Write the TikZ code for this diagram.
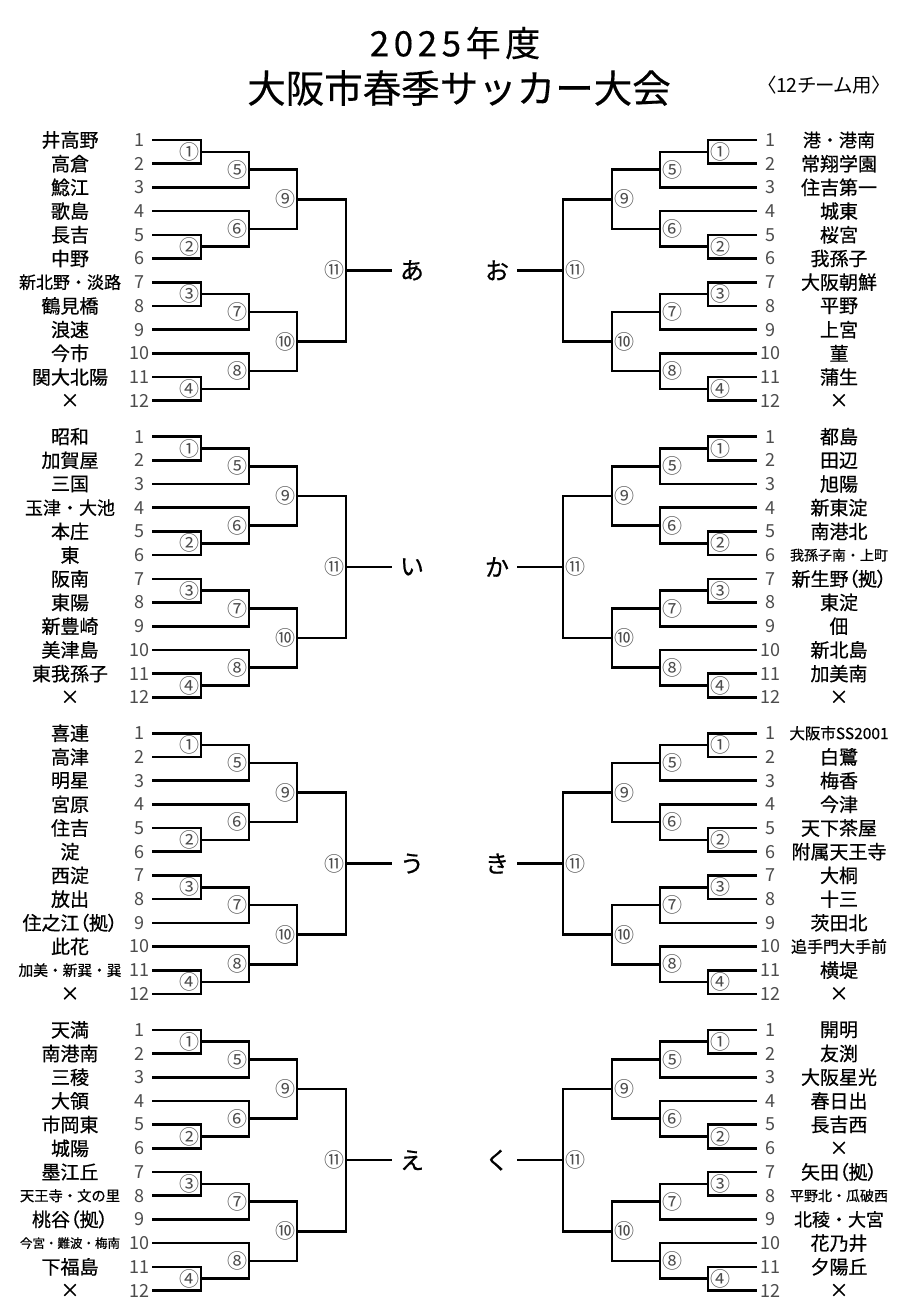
\documentclass[tikz,border=0pt]{standalone}
\usepackage{fontspec}
\setmainfont{Noto Sans CJK JP}
\newcommand\pl{\addfontfeature{RawFeature=+palt}}
\newcommand\fs[1]{\fontsize{#1}{#1}\selectfont}
\tikzset{
  br/.style={line width=2.6pt, line join=miter, draw=black},
  num/.style={inner sep=0pt, text=black!70, font={\fs{18}}},
  team/.style={inner sep=0pt, text=black},
  circ/.style={inner sep=0pt, text=black!70, font={\fs{20}}},
  fin/.style={inner sep=0pt, outer sep=0pt, font={\fs{24}}},
}
% #1 index, #2 tag, #3 sign, #4 final letter, #5 anchor, #6 list
\newcommand\drawblock[6]{%
  \pgfmathsetmacro\yb{140+296.6*#1}
  \foreach \nm/\sz [count=\r] in {#6}{
    \pgfmathsetmacro\yy{\yb+(\r-1)*23.7}
    \coordinate (#2#1t\r) at ({454.5+#3*(152-454.5)},\yy);
    \node[num] (#2#1n\r) at ({454.5+#3*(139-454.5)},\yy) {\r};
    \node[team] (#2#1k\r) at ({454.5+#3*(70-454.5)},\yy) {\fs{\sz}\addfontfeature{FakeBold=0.6}\nm};
  }
  \foreach \id/\x/\rr/\lx/\g in {1/201/1.5/189/①,2/201/5.5/189/②,3/201/7.5/189/③,4/201/11.5/189/④,
      5/249/2.25/237/⑤,6/249/4.75/237/⑥,7/249/8.25/237/⑦,8/249/10.75/237/⑧,
      9/297/3.5/285/⑨,10/297/9.5/285/⑩,11/346/6.5/334/⑪}{
    \coordinate (#2#1m\id) at ({454.5+#3*(\x-454.5)},{\yb+(\rr-1)*23.7});
    \node[circ] (#2#1c\id) at ({454.5+#3*(\lx-454.5)},{\yb+(\rr-1)*23.7}) {\g};
  }
  \node[fin] (#2#1f) at ({454.5+#3*(412-454.5)},{\yb+5.5*23.7}) {\addfontfeature{FakeBold=0.6}#4};
  \draw[br] (#2#1t1) -| (#2#1m1) |- (#2#1t2);
  \draw[br] (#2#1t5) -| (#2#1m2) |- (#2#1t6);
  \draw[br] (#2#1t7) -| (#2#1m3) |- (#2#1t8);
  \draw[br] (#2#1t11) -| (#2#1m4) |- (#2#1t12);
  \draw[br] (#2#1m1) -| (#2#1m5) |- (#2#1t3);
  \draw[br] (#2#1t4) -| (#2#1m6) |- (#2#1m2);
  \draw[br] (#2#1m3) -| (#2#1m7) |- (#2#1t9);
  \draw[br] (#2#1t10) -| (#2#1m8) |- (#2#1m4);
  \draw[br] (#2#1m5) -| (#2#1m9) |- (#2#1m6);
  \draw[br] (#2#1m7) -| (#2#1m10) |- (#2#1m8);
  \draw[br] (#2#1m9) -| (#2#1m11) |- (#2#1m10);
  \draw[br, shorten >=8pt] (#2#1m11) -- (#2#1f.#5);
}
\begin{document}
\begin{tikzpicture}[x=1pt,y=-1pt]
\fill[white] (0,0) rectangle (900,1306);
\useasboundingbox (0,0) rectangle (900,1306);
\node[inner sep=0pt] (title1) at (455,43) {\fs{35}\addfontfeature{LetterSpace=13,FakeBold=0.4}2025年度};
\node[inner sep=0pt] (title2) at (459,88) {\fs{38.5}\addfontfeature{FakeBold=0.4}大阪市春季サッカー大会};
\node[inner sep=0pt] (sub) at (824,85) {\fs{19.5}\pl〈12チーム用〉};

\drawblock{0}{L}{1}{あ}{west}{井高野/19,高倉/19,鯰江/19,歌島/19,長吉/19,中野/19,新北野・淡路/17,鶴見橋/19,浪速/19,今市/19,関大北陽/19,×/19}
\drawblock{1}{L}{1}{い}{west}{昭和/19,加賀屋/19,三国/19,玉津・大池/18,本庄/19,東/19,阪南/19,東陽/19,新豊崎/19,美津島/19,東我孫子/19,×/19}
\drawblock{2}{L}{1}{う}{west}{喜連/19,高津/19,明星/19,宮原/19,住吉/19,淀/19,西淀/19,放出/19,\pl 住之江（拠）/19,此花/19,加美・新巽・巽/14.7,×/19}
\drawblock{3}{L}{1}{え}{west}{天満/19,南港南/19,三稜/19,大領/19,市岡東/19,城陽/19,墨江丘/19,天王寺・文の里/14.3,\pl 桃谷（拠）/19,今宮・難波・梅南/12.5,下福島/19,×/19}

\drawblock{0}{R}{-1}{お}{east}{港・港南/18,常翔学園/19,住吉第一/19,城東/19,桜宮/19,我孫子/19,大阪朝鮮/19,平野/19,上宮/19,菫/19,蒲生/19,×/19}
\drawblock{1}{R}{-1}{か}{east}{都島/19,田辺/19,旭陽/19,新東淀/19,南港北/19,我孫子南・上町/14,\pl 新生野（拠）/19,東淀/19,佃/19,新北島/19,加美南/19,×/19}
\drawblock{2}{R}{-1}{き}{east}{大阪市SS2001/15.5,白鷺/19,梅香/19,今津/19,天下茶屋/19,附属天王寺/19,大桐/19,十三/19,茨田北/19,追手門大手前/16,横堤/19,×/19}
\drawblock{3}{R}{-1}{く}{east}{開明/19,友渕/19,大阪星光/19,春日出/19,長吉西/19,×/19,\pl 矢田（拠）/19,平野北・瓜破西/14,北稜・大宮/18,花乃井/19,夕陽丘/19,×/19}
\end{tikzpicture}
\end{document}
